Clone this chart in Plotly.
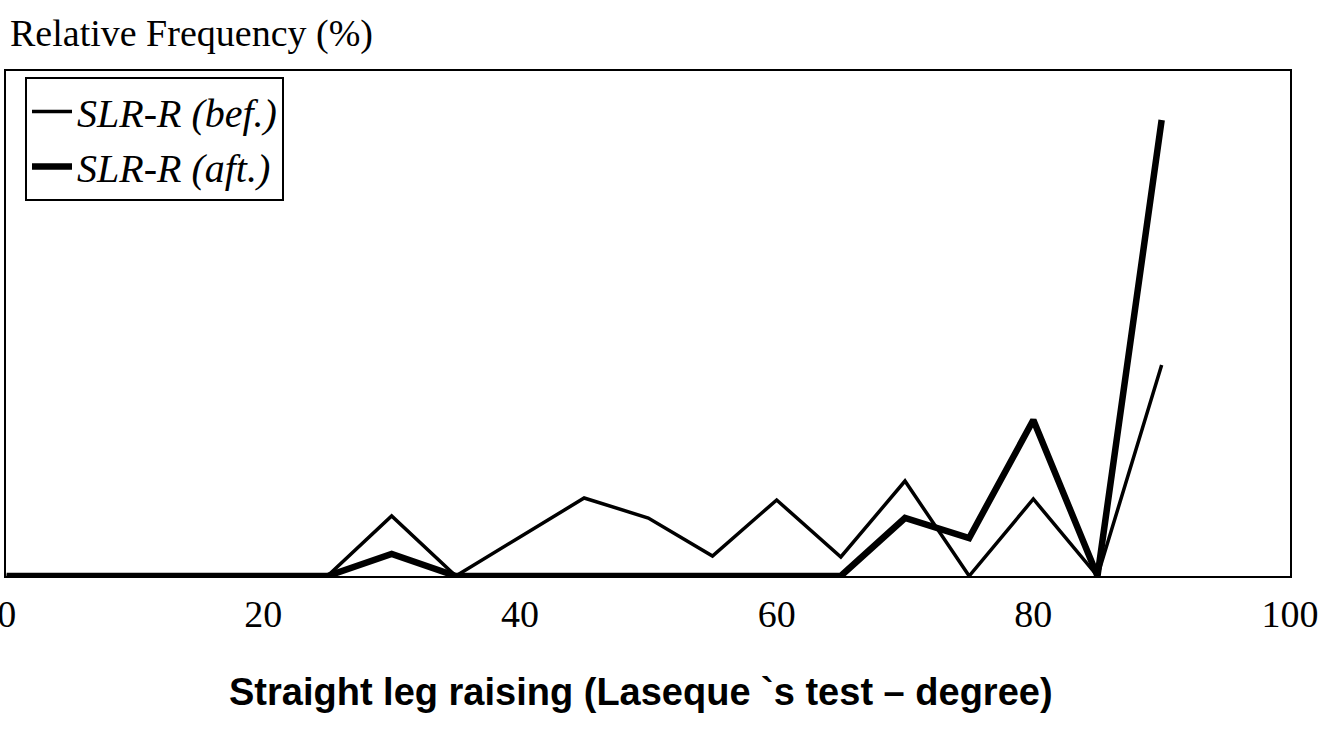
import plotly.graph_objects as go

# Data (x: straight leg raising angle in degrees, y: relative frequency %)
angles = [0, 5, 10, 15, 20, 25, 30, 35, 40, 45, 50, 55, 60, 65, 70, 75, 80, 85, 90]
slr_bef = [0, 0, 0, 0, 0, 0, 6.0, 0, 3.9, 7.8, 5.8, 2.0, 7.6, 1.9, 9.5, 0, 7.7, 0, 21.1]
slr_aft = [0, 0, 0, 0, 0, 0, 2.2, 0, 0, 0, 0, 0, 0, 0, 5.8, 3.8, 15.6, 0, 45.6]
x_ticks = [0, 20, 40, 60, 80, 100]
x_ticktext = ["0", "20", "40", "60", "80", "100"]
series_names = ["<i>SLR-R (bef.)</i>", "<i>SLR-R (aft.)</i>"]

serif = "Liberation Serif"

fig = go.Figure()
fig.add_trace(go.Scatter(x=angles, y=slr_bef, mode="lines", name=series_names[0],
                         line=dict(color="black", width=3.5)))
fig.add_trace(go.Scatter(x=angles, y=slr_aft, mode="lines", name=series_names[1],
                         line=dict(color="black", width=6.5)))

fig.update_layout(
    width=1327, height=731,
    margin=dict(l=6, r=37, t=71, b=155),
    paper_bgcolor="white", plot_bgcolor="white",
    showlegend=True,
    legend=dict(x=0.0148, y=0.988, xanchor="left", yanchor="top",
                bordercolor="black", borderwidth=2, bgcolor="white",
                font=dict(family=serif, size=40, color="black"),
                itemwidth=40, tracegroupgap=0),
    xaxis=dict(range=[-0.05, 100], tickvals=x_ticks, ticktext=x_ticktext,
               showgrid=False, zeroline=False, showline=True, mirror=True,
               linecolor="black", linewidth=2, ticks="", automargin=False,
               ticklabelstandoff=3, ticklabeloverflow="allow",
               tickfont=dict(family=serif, size=38, color="black")),
    yaxis=dict(range=[0, 50.5], showgrid=False, zeroline=False, showline=True,
               mirror=True, linecolor="black", linewidth=2, ticks="",
               showticklabels=False, automargin=False),
    annotations=[
        dict(text="Relative Frequency (%)", xref="paper", yref="paper",
             x=0.0016, y=1.075, xanchor="left", yanchor="middle", showarrow=False,
             font=dict(family=serif, size=38, color="black")),
        dict(text="<b>Straight leg raising (Laseque `s test \u2013 degree)</b>",
             xref="paper", yref="paper", x=0.4945, y=-0.2297,
             xanchor="center", yanchor="middle", showarrow=False,
             font=dict(family="Liberation Sans", size=38, color="black")),
    ],
)

fig.write_html("out.html", config={"displayModeBar": False},
               post_script="document.body.style.margin='0';document.body.style.overflow='hidden';")
